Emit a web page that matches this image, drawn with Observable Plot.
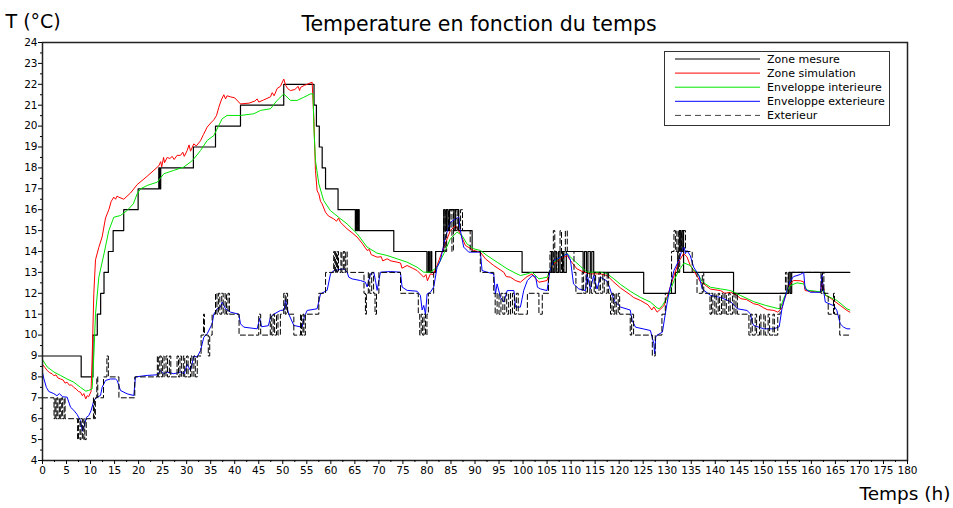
<!DOCTYPE html>
<html><head><meta charset="utf-8">
<script src="https://cdn.jsdelivr.net/npm/d3@7"></script>
<script src="https://cdn.jsdelivr.net/npm/@observablehq/plot@0.6"></script>
<style>body{margin:0;background:#fff}#chart{width:953px;height:508px}</style>
</head><body><div id="chart"></div>
<script>
// ---- data: [hour, temperature °C] ----
const zoneMesure = [[0,9],[8.05,8],[10.5,10],[11.4,11],[12.1,12],[12.8,13],[13.7,14],[14.7,15],[16.9,16],[19.9,17],[24.2,18],[24.4,17],[24.6,18],[31.4,19],[36.0,20],[41.2,21],[50.2,22],[56.5,21],[57.0,20],[57.6,19],[58.2,18],[58.9,17],[61.5,16],[65.1,15],[65.3,16],[65.5,15],[65.7,16],[65.9,15],[73.1,14],[80.0,13],[80.3,14],[80.5,13],[80.8,14],[81.0,13],[81.8,14],[83.5,16],[83.8,15],[84.1,16],[84.4,15],[84.7,16],[85.6,15],[85.9,16],[86.6,15],[89.4,14],[99.8,13],[105.9,14],[106.2,13],[106.6,14],[106.9,13],[107.4,14],[107.7,13],[108.2,14],[108.5,13],[109.0,14],[112.5,13],[112.8,14],[113.2,13],[113.5,14],[114.0,13],[114.3,14],[114.7,13],[125.1,12],[131.7,13],[132.2,14],[132.5,15],[132.8,14],[133.1,15],[133.4,13],[143.8,12],[155.3,13],[155.6,12],[155.9,13],[168,13]];

const zoneSimulation = [[0,8.6],[0.5,8.45],[1,8.3],[1.5,8.2],[2,8.15],[2.4,8.05],[2.8,8.1],[3.2,7.95],[3.75,7.9],[4.3,7.85],[4.7,7.7],[5.1,7.75],[5.6,7.6],[6.0,7.62],[6.5,7.5],[7.0,7.42],[7.5,7.3],[7.9,7.27],[8.3,7.1],[8.6,7.2],[9.0,6.95],[9.3,7.1],[9.6,7.05],[10.1,7.3],[10.33,8.9],[10.68,12.0],[11.03,13.6],[11.72,14.2],[12.41,14.7],[13.11,15.6],[13.8,16.0],[14.3,16.4],[14.84,16.6],[15.2,16.5],[15.5,16.65],[15.88,16.6],[16.92,16.5],[18.31,16.8],[19.7,17.2],[21.78,17.6],[23.0,17.85],[24.2,18.1],[24.6,18.3],[24.8,18.05],[25.2,18.5],[25.4,18.25],[25.94,18.5],[26.5,18.45],[27.0,18.55],[27.4,18.4],[28.0,18.6],[28.71,18.6],[29.2,18.75],[29.5,18.55],[30.1,18.83],[30.5,19.1],[30.8,18.8],[31.49,19.15],[32.0,19.05],[32.88,19.3],[33.5,19.6],[34.26,19.95],[35.0,20.15],[35.65,20.3],[36.2,20.5],[36.69,20.9],[37.2,21.25],[37.73,21.5],[38.1,21.3],[38.4,21.45],[39.12,21.4],[40.0,21.35],[41.2,21.06],[43.0,21.1],[44.2,21.2],[44.67,21.3],[45.0,21.15],[46.0,21.25],[47.44,21.4],[47.8,21.6],[48.2,21.45],[48.83,21.8],[49.5,21.9],[50.21,22.25],[50.6,21.95],[51.0,21.8],[51.6,21.7],[52.5,21.75],[53.2,21.9],[53.5,21.7],[53.68,21.85],[54.5,21.95],[55.07,22.0],[56.11,22.1],[56.46,20.4],[56.8,17.88],[57.15,16.9],[57.5,16.76],[57.85,16.4],[58.19,16.28],[58.88,15.88],[59.5,15.7],[60.6,15.56],[61.2,15.45],[61.6,15.6],[62.0,15.4],[63.39,15.08],[64.4,14.9],[65.47,14.69],[66.5,14.4],[67.55,14.05],[68.0,14.1],[68.4,13.85],[69.63,13.73],[70.5,13.75],[70.8,13.55],[71.71,13.65],[72.5,13.55],[73.79,13.49],[74.5,13.45],[74.8,13.2],[75.87,13.33],[77.0,13.2],[77.95,13.09],[79.33,12.77],[79.8,12.9],[80.1,12.6],[80.72,12.93],[81.3,12.9],[82.11,13.33],[83.5,14.21],[84.88,15.0],[85.92,15.24],[86.96,14.85],[88.0,14.29],[89.74,14.05],[91.12,13.97],[92.17,13.65],[93.9,13.33],[95.98,13.01],[96.5,12.8],[97.37,12.77],[98.5,12.6],[99.45,12.53],[100.84,12.8],[101.9,12.93],[102.6,12.7],[103.3,12.53],[105.0,12.61],[105.6,13.1],[106.39,13.41],[107.8,13.65],[109.2,13.81],[109.86,13.57],[111.2,13.17],[112.6,13.01],[114.0,12.93],[116.1,12.93],[117.5,12.85],[118.9,12.53],[120.3,12.25],[122.3,11.93],[123.0,11.8],[124.4,11.66],[126.0,11.45],[126.8,11.2],[127.2,11.35],[127.9,11.1],[128.3,11.18],[129.3,11.4],[130.3,12.05],[131.4,12.85],[132.4,13.5],[133.4,13.9],[134.1,13.75],[134.8,13.33],[135.5,13.09],[136.9,12.55],[137.6,12.45],[139.0,12.2],[141.1,12.13],[142.0,12.0],[143.2,12.05],[144.5,11.9],[145.3,11.74],[146.5,11.7],[148.0,11.5],[149.0,11.45],[150.1,11.3],[150.8,11.22],[152.2,11.18],[153.0,11.1],[153.9,11.3],[154.2,11.6],[155.0,12.1],[155.6,12.45],[156.3,12.61],[157.7,12.6],[158.4,12.55],[158.7,12.13],[159.8,12.1],[161.9,12.05],[162.2,12.55],[162.6,12.2],[162.9,11.9],[163.5,11.85],[164.6,11.66],[166.0,11.42],[167.4,11.18],[168,11.1]];

const enveloppeInterieure = [[0,8.82],[1,8.47],[2.4,8.23],[3.75,8.07],[5.1,7.9],[6.5,7.75],[7.9,7.5],[9.0,7.32],[9.6,7.35],[10.33,7.43],[10.7,9.1],[11.03,11.0],[11.72,12.77],[12.8,13.89],[13.8,15.0],[14.84,15.64],[16.2,15.72],[17.6,15.96],[18.9,16.28],[19.7,16.76],[20.4,17.0],[21.78,17.16],[23.9,17.32],[25.25,17.72],[27.3,17.88],[29.4,18.04],[30.8,18.28],[31.49,18.43],[32.88,18.83],[34.26,19.31],[35.65,19.55],[36.69,20.03],[37.38,20.35],[38.4,20.51],[41.2,20.51],[43.97,20.59],[45.36,20.75],[47.44,20.83],[48.83,21.23],[50.21,21.54],[51.6,21.23],[53.0,21.23],[54.38,21.38],[55.76,21.54],[56.3,21.54],[56.5,19.8],[56.8,18.35],[57.5,17.24],[58.5,16.44],[59.9,15.96],[61.6,15.64],[63.39,15.32],[65.47,14.85],[67.55,14.21],[69.63,13.92],[71.71,13.81],[73.79,13.65],[75.87,13.49],[77.95,13.25],[79.33,13.01],[80.72,13.01],[82.11,13.25],[83.5,13.89],[84.88,14.61],[86.27,14.93],[87.3,14.77],[88.3,14.37],[89.74,14.13],[91.12,14.05],[92.5,13.81],[94.6,13.49],[96.7,13.17],[98.1,13.0],[99.45,12.85],[100.84,12.93],[101.9,13.01],[103.3,12.69],[105.0,12.77],[105.6,13.1],[106.4,13.49],[107.8,13.73],[109.2,13.89],[110.6,13.57],[111.9,13.3],[113.3,13.01],[116.1,13.01],[117.4,12.95],[118.9,12.69],[120.3,12.42],[122.3,12.1],[124.4,11.81],[126.5,11.58],[127.9,11.3],[128.3,11.26],[129.0,11.42],[130.3,11.9],[131.4,12.6],[132.4,13.09],[133.5,13.45],[134.8,13.33],[135.5,13.1],[136.2,13.0],[137.3,12.55],[139.0,12.29],[141.1,12.21],[143.2,12.13],[145.3,11.89],[148.0,11.6],[150.5,11.42],[152.9,11.28],[153.5,11.26],[154.2,11.74],[155.6,12.37],[157.0,12.5],[158.4,12.45],[159.1,12.15],[161.9,12.07],[162.6,12.15],[163.0,11.9],[165.3,11.66],[167.4,11.26],[168,11.2]];

const enveloppeExterieure = [[0,8.2],[0.3,7.9],[0.8,7.5],[1.32,7.3],[2.36,7.2],[3.0,7.1],[3.5,7.2],[4.2,7.05],[5.13,7.03],[5.83,6.55],[6.52,6.4],[7.21,6.2],[7.91,5.9],[8.3,5.4],[8.6,5.6],[9.16,6.07],[9.64,6.15],[10.13,6.4],[10.68,6.87],[11.37,7.03],[12.07,7.11],[12.41,7.5],[13.11,7.83],[14.15,7.9],[15.19,7.9],[15.54,7.83],[16.23,7.35],[17.62,7.19],[19.0,7.11],[19.35,8.0],[21.78,8.07],[23.86,8.1],[24.5,8.3],[25.2,8.15],[25.94,8.23],[27.33,8.15],[28.71,8.23],[29.5,8.15],[30.1,8.6],[30.8,8.3],[31.49,9.0],[32.18,8.95],[32.88,9.26],[33.57,9.9],[34.26,10.06],[35.3,10.54],[35.65,11.0],[36.34,11.26],[37.03,11.34],[37.38,11.58],[38.08,11.26],[39.12,11.1],[40.85,11.0],[41.2,10.54],[41.89,10.38],[44.67,10.3],[45.2,10.8],[45.6,10.4],[47.0,10.45],[47.44,10.86],[48.13,11.0],[49.52,11.18],[50.3,11.2],[50.56,11.7],[50.9,11.3],[51.25,11.0],[52.3,10.46],[54.03,10.38],[54.5,10.9],[54.72,11.0],[55.07,11.18],[57.15,11.26],[57.85,11.97],[59.23,12.14],[59.93,12.93],[60.6,13.09],[62.7,13.17],[63.4,13.0],[63.74,12.77],[64.43,12.69],[66.17,12.61],[67.2,12.53],[67.55,12.3],[68.24,12.93],[68.94,13.01],[69.3,12.6],[69.63,12.14],[70.32,13.01],[72.4,13.04],[74.48,13.01],[74.83,12.3],[75.87,12.14],[77.95,12.1],[78.64,11.9],[79.0,11.2],[79.33,11.42],[79.7,11.0],[80.03,11.97],[80.72,12.05],[81.41,12.3],[82.11,13.25],[82.8,13.57],[83.84,14.69],[84.88,15.4],[85.92,15.56],[86.61,15.64],[86.96,15.0],[87.65,14.21],[88.69,13.97],[91.12,13.97],[91.47,13.09],[92.51,13.01],[93.9,12.93],[94.25,11.97],[94.6,12.45],[95.3,11.81],[96.0,11.58],[96.7,12.13],[98.1,12.13],[98.42,11.34],[99.45,11.34],[100.14,12.14],[100.9,12.61],[101.9,12.85],[102.6,12.8],[103.0,12.29],[103.6,12.21],[105.0,12.13],[105.6,13.09],[106.4,13.57],[107.8,13.73],[109.2,13.89],[109.86,13.6],[110.5,12.45],[111.6,12.21],[113.0,12.13],[113.3,12.93],[114.0,12.2],[114.7,12.85],[115.4,12.2],[116.1,12.77],[117.4,12.6],[118.0,12.29],[118.4,12.0],[119.1,11.6],[120.3,11.34],[122.3,11.2],[122.7,10.7],[123.4,10.38],[126.5,10.22],[127.2,9.6],[127.4,9.1],[127.6,9.9],[127.9,10.0],[129.0,10.14],[129.6,11.02],[130.3,11.97],[131.4,13.09],[132.4,13.57],[133.1,14.1],[133.5,14.21],[133.8,13.9],[134.1,14.05],[134.8,13.8],[135.5,13.25],[136.6,12.85],[137.3,12.2],[139.0,11.9],[141.1,11.8],[143.2,11.6],[144.6,11.26],[146.6,11.18],[147.3,11.02],[147.7,10.6],[148.0,10.46],[150.1,10.3],[152.2,10.3],[153.3,10.4],[153.9,11.3],[154.9,12.13],[155.6,12.6],[156.3,12.8],[157.7,12.9],[158.4,13.0],[158.7,12.21],[159.8,12.05],[161.9,12.05],[162.2,12.9],[162.5,12.2],[162.9,11.58],[164.7,11.4],[165.3,11.18],[166.0,10.54],[166.7,10.38],[167.4,10.3],[168,10.3]];

const exterieur = [[0,7],[2.4,6],[2.6,7],[2.8,6],[3.0,7],[3.2,6],[3.5,7],[3.7,6],[4.0,7],[4.2,6],[4.5,7],[4.7,6],[7.3,5],[7.5,6],[7.8,5],[8.0,6],[8.3,5],[8.6,6],[8.8,5],[9.1,6],[10.6,7],[10.8,6],[11.0,7],[11.3,8],[11.5,7],[12.7,8],[13.4,9],[13.7,8],[15.9,7],[19.2,8],[23.9,9],[24.1,8],[24.4,9],[24.7,8],[25.0,9],[25.3,8],[25.7,9],[26.0,8],[26.4,9],[26.7,8],[28.0,9],[28.3,8],[28.6,9],[28.9,8],[29.3,9],[29.6,8],[30.0,9],[30.3,8],[30.8,9],[31.1,8],[31.5,9],[31.8,8],[32.2,9],[33.0,10],[33.5,11],[33.7,10],[34.5,9],[34.8,10],[35.3,11],[36.0,12],[36.3,11],[36.6,12],[36.9,11],[37.3,12],[37.6,11],[38.0,12],[38.3,11],[38.6,12],[38.9,11],[40.9,10],[45.0,11],[45.4,10],[47.4,11],[47.7,10],[48.0,11],[48.3,10],[48.7,11],[49.0,10],[49.5,11],[50.2,12],[50.5,11],[50.7,12],[51.0,11],[52.3,10],[53.7,11],[53.9,10],[54.2,11],[54.4,10],[54.7,11],[57.5,12],[58.9,13],[60.6,14],[60.8,13],[61.0,14],[61.2,13],[61.4,14],[61.6,13],[62.1,14],[62.3,13],[62.6,14],[62.9,13],[63.1,14],[63.4,13],[66.9,12],[67.2,11],[67.4,12],[67.8,13],[68.1,12],[68.5,13],[68.9,12],[69.2,11],[69.5,12],[70.0,13],[74.5,12],[78.2,11],[78.5,10],[78.8,11],[79.1,10],[79.4,11],[79.7,10],[80.0,11],[80.3,12],[81.4,13],[81.8,14],[83.5,16],[83.8,14],[84.1,16],[84.5,15],[84.8,16],[85.2,14],[85.5,16],[86.0,15],[86.3,16],[86.6,15],[87.0,16],[87.4,15],[89.0,14],[91.1,13],[93.9,12],[94.2,11],[94.6,12],[95.0,11],[95.4,12],[95.8,11],[96.2,12],[96.6,11],[97.0,12],[97.4,11],[97.8,12],[98.2,11],[98.6,12],[99.0,11],[100.9,12],[103.3,11],[104.0,12],[105.3,13],[105.6,14],[105.9,13],[106.3,15],[106.6,14],[107.0,13],[107.3,14],[107.7,15],[108.0,13],[108.4,14],[108.8,15],[109.2,14],[110.6,13],[111.0,12],[112.3,13],[112.6,12],[113.1,13],[113.4,12],[113.9,13],[114.2,12],[114.8,13],[115.1,12],[115.8,13],[116.1,12],[116.6,13],[116.9,12],[117.5,13],[117.8,12],[118.2,11],[118.5,12],[118.8,11],[119.1,12],[119.4,11],[119.8,12],[120.1,11],[122.3,10],[122.6,11],[123.0,10],[126.9,9],[127.5,10],[128.9,11],[129.6,12],[130.9,14],[131.4,15],[131.7,14],[132.0,15],[132.3,13],[132.6,15],[133.0,14],[133.3,15],[133.8,14],[135.2,13],[136.2,12],[137.3,13],[137.6,12],[138.9,11],[139.2,12],[139.5,11],[139.9,12],[140.2,11],[140.6,12],[140.9,11],[141.3,12],[141.6,11],[142.0,12],[142.3,11],[142.8,12],[143.1,11],[143.6,12],[143.9,11],[144.3,12],[144.6,11],[147.0,10],[147.4,11],[147.7,10],[148.3,11],[148.6,10],[149.2,11],[149.5,10],[150.1,11],[150.4,10],[151.0,11],[151.3,10],[152.0,11],[152.3,10],[153.0,11],[153.5,12],[154.6,13],[154.9,12],[155.2,13],[162.0,12],[162.3,13],[162.6,12],[163.5,11],[164.6,12],[164.8,11],[165.9,10],[168,10]];

const xTicks = d3.range(0, 181, 5);
const xMinor = d3.range(2.5, 180, 5);
const yTicks = d3.range(4, 25, 1);
const yMinor = d3.range(4.5, 24, 1);
const legendNames = ["Zone mesure", "Zone simulation", "Enveloppe interieure", "Enveloppe exterieure", "Exterieur"];
const titleText = "Temperature en fonction du temps";
const yLabel = "T (°C)";
const xLabel = "Temps (h)";

const seriesDefs = [
  {name: legendNames[0], data: zoneMesure, stroke: "#000000", width: 1.2, dash: null, curve: "step-after"},
  {name: legendNames[1], data: zoneSimulation, stroke: "#ff0000", width: 1, dash: null, curve: "linear"},
  {name: legendNames[2], data: enveloppeInterieure, stroke: "#00e600", width: 1, dash: null, curve: "linear"},
  {name: legendNames[3], data: enveloppeExterieure, stroke: "#0000ff", width: 1, dash: null, curve: "linear"},
  {name: legendNames[4], data: exterieur, stroke: "#000000", width: 1, dash: "5,3", curve: "step-after"}
];

const font = "DejaVu Sans, Verdana, sans-serif";

const plot = Plot.plot({
  width: 953, height: 508,
  marginLeft: 42, marginRight: 46, marginTop: 42, marginBottom: 48,
  style: {fontFamily: font, fontSize: "10.5px", color: "#000", background: "#fff"},
  x: {domain: [0, 180], label: null},
  y: {domain: [4, 24], label: null},
  marks: [
    ...seriesDefs.map(s => Plot.line(s.data, {
      x: d => d[0], y: d => d[1], stroke: s.stroke, strokeWidth: s.width,
      strokeDasharray: s.dash, curve: s.curve
    })),
    Plot.frame({stroke: "#222", strokeWidth: 1.5}),
    Plot.axisX({ticks: xTicks, tickSize: 4, tickPadding: 2, label: null, fontSize: 10.5}),
    Plot.axisX({ticks: xMinor, tickSize: 2, tickFormat: () => "", label: null}),
    Plot.axisY({ticks: yTicks, tickSize: 4, tickPadding: 1, label: null, fontSize: 10.5}),
    Plot.axisY({ticks: yMinor, tickSize: 2, tickFormat: () => "", label: null}),
    Plot.text([titleText], {frameAnchor: "top", dx: 4, dy: -26, fontSize: 20.5, fill: "#000"}),
    Plot.text([yLabel], {frameAnchor: "top-left", textAnchor: "start", dx: -37, dy: -28, fontSize: 19, fill: "#000"}),
    Plot.text([xLabel], {frameAnchor: "bottom-right", textAnchor: "end", dx: 43, dy: 39, fontSize: 18.5, fill: "#000"})
  ]
});

document.getElementById("chart").appendChild(plot);

// legend box drawn inside the plot area (top-right)
const svg = d3.select(plot);
const lg = svg.append("g").attr("font-family", font).attr("font-size", 11).attr("text-anchor", "start");
lg.append("rect").attr("x", 664.5).attr("y", 51.5).attr("width", 225).attr("height", 74)
  .attr("fill", "#fff").attr("stroke", "#333").attr("stroke-width", 1);
seriesDefs.forEach((s, i) => {
  const y = 59 + i * 14.1;
  lg.append("line").attr("x1", 675).attr("x2", 760).attr("y1", y).attr("y2", y)
    .attr("stroke", s.dash ? "#444" : s.stroke).attr("stroke-width", 1)
    .attr("stroke-dasharray", s.dash ? "6,4" : null);
  lg.append("text").attr("x", 767).attr("y", y).attr("dy", "0.35em").attr("fill", "#000")
    .attr("text-anchor", "start").text(s.name);
});
</script>
</body></html>
